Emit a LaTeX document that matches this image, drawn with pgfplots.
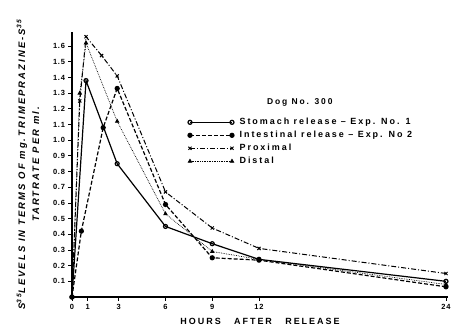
\documentclass[border=0pt]{standalone}
\usepackage{pgfplots}
\pgfplotsset{compat=1.18}
\usepackage{fontspec}
\setmainfont{Liberation Sans}[LetterSpace=22]
\newfontfamily\tickfont{Liberation Sans}[LetterSpace=10]
\begin{document}
\begin{tikzpicture}[x=1bp,y=1bp]
\useasboundingbox (-72,-33) rectangle (380,297);
\begin{axis}[
  at={(0,0)}, anchor=south west,
  scale only axis, width=376bp, height=265bp,
  xmin=0, xmax=24.13, ymin=0, ymax=1.69,
  axis x line=bottom, axis y line=left,
  axis line style={-, line width=1.3bp},
  xtick={0,1,3,6,9,12,24},
  ytick={0.1,0.2,0.3,0.4,0.5,0.6,0.7,0.8,0.9,1.0,1.1,1.2,1.3,1.4,1.5,1.6},
  yticklabel style={/pgf/number format/.cd, fixed, fixed zerofill, precision=1},
  /pgf/number format/assume math mode=true,
  tick align=outside, major tick length=3.5bp,
  tick style={line width=0.8bp, black},
  ticklabel style={font=\tickfont\bfseries\fontsize{7.5}{8}\selectfont},
  xlabel={HOURS\ \ \ AFTER\ \ \ RELEASE},
  xlabel style={font=\bfseries\fontsize{9}{9}\selectfont, at={(axis description cs:0.5,0)}, anchor=north, yshift=-18bp},
  ylabel={S\textsuperscript{35}LEVELS IN TERMS OF mg.TRIMEPRAZINE-S\textsuperscript{35}\\TARTRATE PER ml.},
  ylabel style={font=\bfseries\itshape\fontsize{9.5}{14}\selectfont, align=center, at={(axis description cs:-0.117,0.5)}, anchor=center},
  legend style={draw=none, fill=none, at={(0.30,0.69)}, anchor=north west,
    font=\bfseries\fontsize{9}{10}\selectfont, row sep=1bp, cells={anchor=west}},
  legend image code/.code={\draw[#1] plot coordinates {(0bp,0bp) (42bp,0bp)}; \path (47bp,0bp);},
]
\addplot[black, line width=1.2bp, mark=o, mark size=2bp, mark options={solid, fill=white}] coordinates {
(0,0) (0.9,1.38) (2.9,0.85) (6,0.45) (9,0.34) (12,0.24) (24,0.10)};
\addlegendentry{Stomach release -- Exp. No. 1}
\addplot[black, line width=1.2bp, dash pattern=on 4bp off 2bp, mark=*, mark size=2bp, mark options={solid}] coordinates {
(0,0) (0.6,0.42) (2,1.08) (2.9,1.33) (6,0.59) (9,0.25) (12,0.235) (24,0.065)};
\addlegendentry{Intestinal release -- Exp. No 2}
\addplot[black, line width=1bp, dash pattern=on 5bp off 2bp on 1bp off 2bp, mark=x, mark size=2.2bp, mark options={solid, line width=1bp}] coordinates {
(0,0) (0.5,1.25) (0.9,1.66) (1.9,1.54) (2.9,1.41) (6,0.67) (9,0.44) (12,0.31) (24,0.15)};
\addlegendentry{Proximal}
\addplot[black, line width=0.7bp, densely dotted, mark=triangle*, mark size=2bp, mark options={solid}] coordinates {
(0,0) (0.5,1.3) (0.9,1.62) (2.9,1.12) (6,0.53) (9,0.29) (12,0.24) (24,0.08)};
\addlegendentry{Distal}
\node[font=\bfseries\fontsize{8.5}{9}\selectfont] at (rel axis cs:0.606,0.736) {Dog No. 300};
\end{axis}
\end{tikzpicture}
\end{document}
